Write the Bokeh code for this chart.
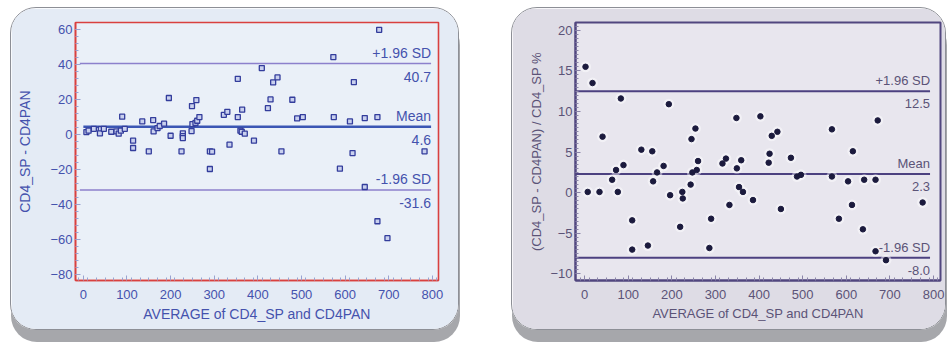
from bokeh.plotting import figure
from bokeh.layouts import row
from bokeh.models import Range1d, Label, FixedTicker
from bokeh.embed import file_html
from bokeh.resources import INLINE

# ---- data: left panel (difference) ----
avg_diff = [7, 12, 24, 40, 38, 47, 64, 76, 81, 89, 86, 95, 114, 114, 135, 150, 160, 161, 170, 175,
            185, 196, 200, 225, 228, 228, 228, 248, 249, 250, 257, 259, 261, 266, 290, 290, 295, 322,
            330, 335, 354, 354, 360, 364, 363, 370, 391, 409, 423, 429, 435, 445, 454, 479, 490, 503,
            573, 574, 588, 611, 617, 620, 645, 645, 674, 674, 678, 697, 782]
diff = [1.5, 2.3, 3.4, 3.2, 0.8, 3.4, 1.7, 1.9, 0.6, 10.3, 2.3, 3.4, -3.4, -7.6, 7.6, -9.5, 8.4, 1.9,
        3.8, 5.0, 6.3, 21, -0.6, -9.5, 0.8, -0.8, -1.9, 2.1, 16.4, 6.1, 6.7, 19.8, 8.0, 10.1, -9.5,
        -19.6, -9.7, 11.4, 13.1, -5.7, 32, 10.1, 2.3, 14.3, 1.7, 0.6, -3.4, 38.1, 15.2, 20.2, 29.9,
        32.8, -9.5, 20, 9.3, 10.1, 44.4, 10.1, -19.4, 7.6, -10.5, 30.1, 9.5, -29.9, 10.1, -49.5, 60,
        -59.2, -9.5]
diff_stats = {"upper": 40.7, "mean": 4.6, "lower": -31.6}

# ---- data: right panel (percent difference) ----
avg_pct = [2, 7, 18, 34, 41, 63, 72, 76, 83, 89, 109, 109, 130, 145, 155, 157, 166, 181, 193, 196,
           219, 224, 225, 243, 245, 247, 254, 257, 260, 286, 290, 316, 324, 332, 348, 349, 354, 359,
           363, 386, 403, 422, 424, 429, 442, 450, 473, 487, 496, 567, 567, 583, 604, 613, 615, 638,
           641, 667, 667, 672, 691, 775]
pct = [15.5, 0.1, 13.5, 0.1, 6.9, 1.6, 2.8, 0.1, 11.6, 3.4, -3.4, -7.0, 5.3, -6.5, 5.1, 1.4, 2.5,
       3.3, 10.9, -0.3, -4.2, 0.1, -0.7, 1.0, 6.6, 2.5, 7.9, 2.8, 3.9, -6.8, -3.2, 3.6, 4.2, -1.5,
       9.2, 3.0, 0.7, 4.0, 0.1, -0.9, 9.4, 3.7, 4.8, 7.0, 7.5, -2.0, 4.3, 2.0, 2.2, 7.8, 2.0, -3.2,
       1.4, -1.5, 5.1, -4.5, 1.6, 1.6, -7.2, 8.9, -8.3, -1.2]
pct_stats = {"upper": 12.5, "mean": 2.3, "lower": -8.0}

x_ticks = [0, 100, 200, 300, 400, 500, 600, 700, 800]
y_ticks_left = [-80, -60, -40, -20, 0, 20, 40, 60]
y_ticks_right = [-10, -5, 0, 5, 10, 15, 20]
x_title = "AVERAGE of CD4_SP and CD4PAN"
y_title_left = "CD4_SP - CD4PAN"
y_title_right = "(CD4_SP - CD4PAN) / CD4_SP %"

FONT = "Liberation Sans"


def style_axes(p, color, tick_color, outline, lw, tick_size, title_size, y_standoff, x_standoff):
    p.xgrid.visible = False
    p.ygrid.visible = False
    p.outline_line_color = outline
    p.outline_line_width = lw
    for ax in (p.xaxis[0], p.yaxis[0]):
        ax.axis_line_color = outline
        ax.axis_line_width = lw
        ax.major_tick_in = 5
        ax.major_tick_out = 0
        ax.minor_tick_in = 3
        ax.minor_tick_out = 0
        ax.major_tick_line_color = tick_color
        ax.minor_tick_line_color = tick_color
        ax.major_label_text_color = color
        ax.major_label_text_font = FONT
        ax.major_label_text_font_size = f"{tick_size}px"
        ax.axis_label_text_color = color
        ax.axis_label_text_font = FONT
        ax.axis_label_text_font_style = "normal"
        ax.axis_label_text_font_size = f"{title_size}px"
    p.xaxis[0].major_label_standoff = 9
    p.yaxis[0].major_label_standoff = 3
    p.yaxis[0].axis_label_standoff = y_standoff
    p.xaxis[0].axis_label_standoff = x_standoff


def add_labels(p, stats, x_right, color, size):
    names = [("upper", "+1.96 SD"), ("mean", "Mean"), ("lower", "-1.96 SD")]
    for key, name in names:
        v = stats[key]
        p.add_layout(Label(x=x_right, y=v, text=name, text_align="right", text_baseline="bottom",
                           y_offset=3, text_color=color, text_font=FONT,
                           text_font_size=f"{size}px"))
        p.add_layout(Label(x=x_right, y=v, text=f"{v:.1f}", text_align="right", text_baseline="top",
                           y_offset=-8, text_color=color, text_font=FONT,
                           text_font_size=f"{size}px"))


# ---------------- left panel ----------------
p1 = figure(width=449, height=323, output_backend="svg", toolbar_location=None,
            x_range=Range1d(-18, 814), y_range=Range1d(-83.4, 64.2),
            min_border_left=64, min_border_right=22, min_border_top=14, min_border_bottom=51,
            background_fill_color="#eaf0f8", border_fill_color="#e4ebf5",
            x_axis_label=x_title, y_axis_label=y_title_left)
p1.xaxis[0].ticker = FixedTicker(ticks=x_ticks, minor_ticks=list(range(-10, 811, 20)))
p1.yaxis[0].ticker = FixedTicker(ticks=y_ticks_left, minor_ticks=list(range(-80, 61, 4)))
style_axes(p1, "#4452ad", "#9aa2d0", "#d9403f", 1.6, 13, 14, 14, 4)

blue_line = "#3b56b4"
sd_line = "#8c80cc"
p1.segment(x0=[-8, -8], x1=[797, 797], y0=[diff_stats["upper"], diff_stats["lower"]],
           y1=[diff_stats["upper"], diff_stats["lower"]], line_color=sd_line, line_width=1.5)
p1.segment(x0=[0], x1=[797], y0=[diff_stats["mean"]], y1=[diff_stats["mean"]],
           line_color=blue_line, line_width=2.5)
p1.scatter(avg_diff, diff, marker="square", size=5, fill_color="#c9d0ee", line_color="#333d9c",
           line_width=1.3)
add_labels(p1, diff_stats, 797, "#4452ad", 14)
p1.styles = {"border-radius": "26px", "overflow": "hidden", "border": "1px solid #8d8f96",
             "box-shadow": "1px 12px 0 #a6a7ab"}
p1.margin = (7, 0, 0, 10)

# ---------------- right panel ----------------
p2 = figure(width=435, height=323, output_backend="svg", toolbar_location=None,
            x_range=Range1d(-21, 816), y_range=Range1d(-10.8, 20.95),
            min_border_left=63, min_border_right=7, min_border_top=14, min_border_bottom=51,
            background_fill_color="#e8e6ee", border_fill_color="#dedce5",
            x_axis_label=x_title, y_axis_label=y_title_right)
p2.xaxis[0].ticker = FixedTicker(ticks=x_ticks, minor_ticks=list(range(-10, 811, 20)))
p2.yaxis[0].ticker = FixedTicker(ticks=y_ticks_right, minor_ticks=[v / 2 for v in range(-20, 42)])
style_axes(p2, "#5b5377", "#8a84a8", "#51467f", 2, 13, 13, 3, 4)

dark_line = "#4c4180"
p2.segment(x0=[-21, -21, -21], x1=[792, 792, 792],
           y0=[pct_stats["upper"], pct_stats["mean"], pct_stats["lower"]],
           y1=[pct_stats["upper"], pct_stats["mean"], pct_stats["lower"]],
           line_color=dark_line, line_width=2)
p2.scatter(avg_pct, pct, marker="circle", size=11, fill_color="white", fill_alpha=0.45,
           line_color=None)
p2.scatter(avg_pct, pct, marker="circle", size=5.5, fill_color="#1b1a3d", line_color="#1b1a3d")
add_labels(p2, pct_stats, 792, "#5b5377", 13)
p2.styles = {"border-radius": "26px", "overflow": "hidden", "border": "1px solid #8d8f96",
             "box-shadow": "1px 12px 0 #a6a7ab"}
p2.margin = (7, 0, 0, 0)

layout = row(p1, p2, spacing=52)

open("out.html", "w").write(file_html(layout, INLINE))
